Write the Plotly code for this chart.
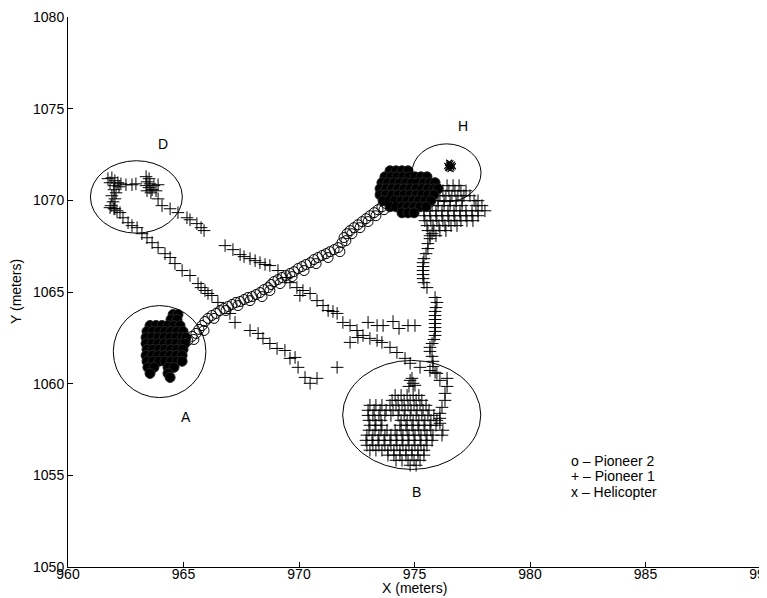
import plotly.graph_objects as go

FONT = "Liberation Sans, Arial, Helvetica, sans-serif"

# ---------------- Pioneer 2 (o) ----------------
# travelled path between region A and region H (x, y) in meters
pioneer2_path = [
    (965.19, 1062.36), (965.37, 1062.58), (965.54, 1062.74), (965.67, 1062.96), (965.80, 1063.17),
    (965.93, 1063.39), (966.06, 1063.56), (966.23, 1063.72), (966.41, 1063.83), (966.58, 1063.99),
    (966.75, 1064.10), (966.93, 1064.21), (967.10, 1064.32), (967.27, 1064.43), (967.45, 1064.48),
    (967.62, 1064.59), (967.79, 1064.70), (967.97, 1064.75), (968.14, 1064.86), (968.31, 1064.97),
    (968.48, 1065.13), (968.66, 1065.24), (968.79, 1065.41), (968.92, 1065.57), (969.09, 1065.68),
    (969.26, 1065.79), (969.44, 1065.90), (969.61, 1066.01), (969.78, 1066.11), (969.96, 1066.28),
    (970.13, 1066.39), (970.30, 1066.50), (970.48, 1066.60), (970.65, 1066.77), (970.82, 1066.88),
    (971.00, 1066.99), (971.17, 1067.09), (971.34, 1067.20), (971.52, 1067.31), (971.69, 1067.42),
    (971.86, 1067.69), (971.95, 1067.97), (972.08, 1068.18), (972.21, 1068.35), (972.38, 1068.51),
    (972.55, 1068.67), (972.73, 1068.84), (972.90, 1069.00), (973.07, 1069.16), (973.25, 1069.33),
    (973.42, 1069.49), (973.59, 1069.65), (973.77, 1069.82), (973.94, 1069.98),
    (965.45, 1062.41), (965.89, 1062.90), (966.32, 1063.56), (966.84, 1063.99), (967.36, 1064.26),
    (967.88, 1064.53), (968.40, 1064.75), (968.74, 1065.08), (969.18, 1065.46), (969.70, 1065.84),
    (970.22, 1066.17), (970.74, 1066.55), (971.26, 1066.88), (971.77, 1067.20), (972.03, 1067.80),
    (972.29, 1068.18), (972.64, 1068.51), (972.99, 1068.84), (973.33, 1069.16), (973.68, 1069.49),
    (974.03, 1069.76),
]

# dwell cluster in region A: rows of (y, [x, ...])
pioneer2_dwell_A = [
    (1063.77, [964.55, 964.76]),
    (1063.50, [964.46, 964.72]),
    (1063.17, [963.55, 963.81, 964.07, 964.33, 964.59, 964.85]),
    (1062.85, [963.42, 963.68, 963.94, 964.20, 964.46, 964.72, 964.98]),
    (1062.52, [963.38, 963.64, 963.90, 964.16, 964.42, 964.68, 964.94, 965.11]),
    (1062.19, [963.38, 963.64, 963.90, 964.16, 964.42, 964.68, 964.94, 965.06]),
    (1061.87, [963.42, 963.68, 963.94, 964.20, 964.46, 964.72, 964.98]),
    (1061.54, [963.38, 963.64, 963.90, 964.16, 964.42, 964.68, 964.94]),
    (1061.22, [963.42, 963.68, 963.94, 964.20, 964.46, 964.72, 964.94]),
    (1060.89, [963.46, 963.72, 964.33, 964.59]),
    (1060.56, [963.55, 964.33]),
    (1060.34, [964.42]),
]

# dwell cluster near region H
pioneer2_dwell_H = [
    (1071.61, [973.94, 974.20, 974.46, 974.72]),
    (1071.28, [973.72, 973.98, 974.24, 974.50, 974.76, 975.02, 975.28, 975.54]),
    (1070.96, [973.59, 973.85, 974.11, 974.37, 974.63, 974.89, 975.15, 975.41, 975.67, 975.89]),
    (1070.63, [973.51, 973.77, 974.03, 974.29, 974.55, 974.81, 975.07, 975.32, 975.58, 975.84, 976.02]),
    (1070.30, [973.51, 973.77, 974.03, 974.29, 974.55, 974.81, 975.07, 975.32, 975.58, 975.84]),
    (1069.98, [973.64, 973.90, 974.16, 974.42, 974.68, 974.94, 975.19, 975.45, 975.71]),
    (1069.65, [973.94, 974.20, 974.46, 974.72, 974.98, 975.24, 975.50]),
    (1069.32, [974.46, 974.72, 974.98]),
]

# ---------------- Pioneer 1 (+) ----------------
pioneer1_region_D = [
    (961.73, 1071.18), (961.90, 1071.23), (962.03, 1071.07), (962.16, 1070.96), (962.29, 1070.90),
    (961.82, 1070.96), (961.99, 1070.80), (962.21, 1070.74), (961.99, 1070.58), (962.08, 1070.41),
    (961.90, 1070.25), (962.03, 1070.08), (961.95, 1069.92), (961.86, 1069.71), (961.99, 1069.54),
    (962.12, 1069.43), (962.51, 1070.85), (962.77, 1070.85), (962.94, 1070.90), (963.38, 1071.29),
    (963.51, 1071.18), (963.42, 1071.01), (963.55, 1070.90), (963.38, 1070.80), (963.51, 1070.69),
    (963.64, 1070.58), (963.42, 1070.52), (963.72, 1070.80), (963.81, 1070.52), (963.59, 1070.41),
    (963.90, 1070.85),
]

pioneer1_upper_track = [
    (963.90, 1070.08), (964.07, 1069.71), (964.42, 1069.54), (964.76, 1069.33), (965.15, 1069.05),
    (965.28, 1068.94), (965.58, 1068.73), (965.76, 1068.51), (965.89, 1068.35), (966.80, 1067.53),
    (967.14, 1067.31), (967.45, 1067.04), (967.62, 1066.93), (967.88, 1066.82), (968.10, 1066.71),
    (968.31, 1066.60), (968.53, 1066.50), (968.74, 1066.44), (969.09, 1066.17), (969.44, 1065.79),
    (969.61, 1065.51), (969.91, 1065.24), (970.17, 1065.08), (970.04, 1064.81), (970.48, 1064.92),
    (970.78, 1064.53), (971.04, 1064.26), (971.26, 1063.99), (971.47, 1063.94), (971.65, 1063.83),
    (971.90, 1063.34), (972.21, 1063.17), (972.51, 1062.90), (972.77, 1062.63), (973.07, 1062.47),
    (973.38, 1062.36), (973.59, 1062.25), (973.94, 1061.98), (974.24, 1061.70), (974.59, 1061.38),
    (974.81, 1061.11), (975.24, 1060.89), (975.67, 1060.72), (975.89, 1060.62),
    (972.99, 1063.34), (973.38, 1063.17), (973.64, 1063.17), (974.07, 1063.39), (974.33, 1063.01),
    (974.72, 1063.17), (975.02, 1063.17), (972.21, 1062.25), (972.55, 1062.52), (971.65, 1060.89),
]

pioneer1_lower_track = [
    (961.82, 1069.60), (962.03, 1069.54), (962.25, 1069.33), (962.38, 1069.05), (962.60, 1068.78),
    (962.77, 1068.62), (962.99, 1068.51), (963.20, 1068.18), (963.42, 1067.96), (963.64, 1067.69),
    (963.90, 1067.42), (964.20, 1067.09), (964.42, 1066.88), (964.63, 1066.55), (964.94, 1066.17),
    (965.28, 1065.90), (965.63, 1065.46), (965.76, 1065.24), (965.93, 1065.08), (966.06, 1064.92),
    (966.23, 1064.81), (966.49, 1064.43), (967.01, 1063.83), (967.23, 1063.34), (967.88, 1062.90),
    (968.23, 1062.74), (968.44, 1062.47), (968.74, 1062.19), (969.05, 1061.92), (969.39, 1061.81),
    (969.61, 1061.38), (969.83, 1061.43), (969.96, 1060.89), (970.26, 1060.34), (970.48, 1060.02),
    (970.78, 1060.29),
]

pioneer1_return_track = [
    (975.76, 1068.18), (975.67, 1067.91), (975.58, 1067.64), (975.58, 1067.37), (975.50, 1067.09),
    (975.41, 1066.82), (975.37, 1066.60), (975.37, 1066.39), (975.37, 1066.17), (975.37, 1065.95),
    (975.37, 1065.73), (975.41, 1065.51), (975.54, 1065.24), (975.89, 1064.70), (975.97, 1064.43),
    (975.93, 1064.15), (975.89, 1063.94), (975.89, 1063.72), (975.89, 1063.50), (975.89, 1063.28),
    (975.89, 1063.06), (975.89, 1062.85), (975.89, 1062.63), (975.84, 1062.41), (975.76, 1062.19),
    (975.67, 1061.98), (975.67, 1061.76), (975.76, 1061.49), (975.80, 1061.22), (975.80, 1060.94),
    (975.97, 1060.56), (976.10, 1060.18), (976.41, 1060.29), (976.41, 1059.85), (976.32, 1059.47),
    (976.32, 1059.09), (976.19, 1058.71), (976.10, 1058.38), (976.10, 1058.11), (976.10, 1057.84),
    (976.23, 1057.46), (976.19, 1057.19),
    (974.81, 1060.18), (974.94, 1060.02), (974.76, 1059.85), (975.02, 1059.91), (974.89, 1060.29),
]

# dense dwell in region B: rows of (y, [x, ...])
pioneer1_dwell_B = [
    (1059.36, [974.16, 974.42, 974.68, 974.94, 975.19]),
    (1059.09, [974.03, 974.29, 974.55, 974.81, 975.07, 975.32]),
    (1058.82, [973.07, 973.33, 973.59, 973.94, 974.20, 974.46, 974.72, 974.98, 975.24, 975.50]),
    (1058.55, [972.99, 973.25, 973.51, 973.77, 974.07, 974.33, 974.59, 974.85, 975.11, 975.37, 975.63]),
    (1058.27, [972.99, 973.20, 973.46, 973.72, 973.98, 974.29, 974.55, 974.81, 975.07, 975.32, 975.58, 975.84]),
    (1058.00, [973.03, 973.29, 973.55, 974.42, 974.68, 974.94, 975.19, 975.45, 975.71, 975.97]),
    (1057.73, [973.07, 973.33, 973.59, 974.37, 974.63, 974.89, 975.15, 975.41, 975.67, 975.93]),
    (1057.46, [973.03, 973.29, 973.55, 973.81, 974.16, 974.42, 974.68, 974.94, 975.19, 975.45, 975.71]),
    (1057.19, [972.94, 973.20, 973.46, 973.72, 973.98, 974.24, 974.50, 974.76, 975.02, 975.28, 975.54, 975.80]),
    (1056.91, [972.90, 973.16, 973.42, 973.68, 973.94, 974.20, 974.46, 974.72, 974.98, 975.24, 975.50, 975.76]),
    (1056.64, [972.94, 973.20, 973.46, 973.72, 973.98, 974.24, 974.50, 974.76, 975.02, 975.28, 975.54]),
    (1056.37, [973.07, 973.33, 973.59, 973.85, 974.11, 974.37, 974.63, 974.89, 975.15, 975.41]),
    (1056.10, [973.85, 974.11, 974.37, 974.63, 974.89, 975.15, 975.41]),
    (1055.82, [974.20, 974.46, 974.72, 974.98, 975.24]),
    (1055.55, [974.81, 975.07]),
]

# dense dwell near region H
pioneer1_dwell_H = [
    (1070.80, [976.41, 976.67, 976.93]),
    (1070.52, [976.23, 976.49, 976.75, 977.01, 977.23]),
    (1070.25, [976.10, 976.36, 976.62, 976.88, 977.14, 977.40]),
    (1069.98, [975.76, 976.02, 976.28, 976.54, 976.80, 977.06, 977.58, 977.75]),
    (1069.71, [975.50, 975.76, 976.02, 976.28, 976.54, 976.80, 977.06, 977.66, 977.92]),
    (1069.43, [975.41, 975.67, 975.93, 976.19, 976.45, 976.71, 976.97, 977.23, 977.49, 977.75, 978.05]),
    (1069.16, [975.41, 975.67, 975.93, 976.19, 976.45, 976.71, 976.97, 977.23, 977.49, 977.75]),
    (1068.89, [975.45, 975.71, 975.97, 976.23, 976.49, 976.75, 977.01, 977.27, 977.53]),
    (1068.62, [975.54, 975.80, 976.06, 976.32, 976.58, 976.84]),
    (1068.35, [975.58, 975.84, 976.10, 976.36]),
    (1068.07, [975.67, 975.93]),
]

# ---------------- Helicopter (x) ----------------
helicopter = [
    (976.50, 1071.90), (976.58, 1071.85), (976.45, 1071.80), (976.62, 1071.95), (976.55, 1072.02),
    (976.48, 1071.75), (976.60, 1071.78), (976.52, 1071.96), (976.42, 1071.88), (976.66, 1071.86),
    (976.56, 1071.70), (976.50, 1072.05),
]

# ---------------- Regions (ellipse extents x0, x1, y0, y1) and labels ----------------
region_names = ["A", "B", "D", "H"]
region_x0 = [961.96, 971.89, 960.97, 974.89]
region_x1 = [965.97, 977.87, 964.95, 977.88]
region_y0 = [1059.24, 1055.32, 1068.21, 1069.92]
region_y1 = [1064.26, 1061.27, 1072.16, 1073.08]
label_x = [965.1, 975.1, 964.1, 977.1]
label_y = [1058.2, 1054.1, 1073.1, 1074.05]

key_text = ["o \u2013 Pioneer 2", "+ \u2013 Pioneer 1", "x \u2013 Helicopter"]
key_x = 981.7
key_y = [1055.77, 1054.95, 1054.08]

x_ticks = [960, 965, 970, 975, 980, 985, 990]
y_ticks = [1050, 1055, 1060, 1065, 1070, 1075, 1080]
x_title = "X (meters)"
y_title = "Y (meters)"


def unzip(pairs):
    return [p[0] for p in pairs], [p[1] for p in pairs]


def rows_to_xy(rows):
    xs, ys = [], []
    for yv, xlist in rows:
        for xv in xlist:
            xs.append(xv)
            ys.append(yv)
    return xs, ys


plus_marker = dict(symbol="cross-thin-open", size=9, color="black", line=dict(width=1, color="black"))
circle_marker = dict(symbol="circle-open", size=10, color="black", line=dict(width=1, color="black"))
fill_marker = dict(symbol="circle", size=10, color="black", line=dict(width=1, color="#222"))
x_marker = dict(symbol="x-thin-open", size=6, color="black", line=dict(width=1.2, color="black"))

fig = go.Figure()

for pairs in [pioneer1_region_D, pioneer1_upper_track, pioneer1_lower_track, pioneer1_return_track]:
    xs, ys = unzip(pairs)
    fig.add_trace(go.Scatter(x=xs, y=ys, mode="markers", marker=plus_marker, hoverinfo="skip"))
for rows in [pioneer1_dwell_B, pioneer1_dwell_H]:
    xs, ys = rows_to_xy(rows)
    fig.add_trace(go.Scatter(x=xs, y=ys, mode="markers", marker=plus_marker, hoverinfo="skip"))

for rows in [pioneer2_dwell_A, pioneer2_dwell_H]:
    xs, ys = rows_to_xy(rows)
    fig.add_trace(go.Scatter(x=xs, y=ys, mode="markers", marker=fill_marker, hoverinfo="skip"))
xs, ys = unzip(pioneer2_path)
fig.add_trace(go.Scatter(x=xs, y=ys, mode="markers", marker=circle_marker, hoverinfo="skip"))

xs, ys = unzip(helicopter)
fig.add_trace(go.Scatter(x=xs, y=ys, mode="markers", marker=x_marker, hoverinfo="skip"))

for i in range(len(region_names)):
    fig.add_shape(type="circle", xref="x", yref="y",
                  x0=region_x0[i], x1=region_x1[i], y0=region_y0[i], y1=region_y1[i],
                  line=dict(color="black", width=1))
    fig.add_annotation(x=label_x[i], y=label_y[i], text=region_names[i], showarrow=False,
                       font=dict(family=FONT, size=14, color="black"))

for t, yv in zip(key_text, key_y):
    fig.add_annotation(x=key_x, y=yv, text=t, showarrow=False, xanchor="left",
                       font=dict(family=FONT, size=14, color="black"))

# axis titles placed as annotations in paper coordinates
fig.add_annotation(xref="paper", yref="paper", x=0.5, y=0, yshift=-21, yanchor="middle",
                   text=x_title, showarrow=False, font=dict(family=FONT, size=14, color="black"))
fig.add_annotation(xref="paper", yref="paper", x=0, y=0.5, xshift=-52, xanchor="center",
                   textangle=-90, text=y_title, showarrow=False,
                   font=dict(family=FONT, size=14, color="black"))

axis_common = dict(showgrid=False, zeroline=False, showline=True, linecolor="black", linewidth=1,
                   ticks="inside", ticklen=5, tickcolor="black", mirror=False, automargin=False,
                   ticklabeloverflow="allow",
                   tickfont=dict(family=FONT, size=14, color="black"))

# The page body adds an 8 px offset, so the figure is 8 px smaller and margins compensate.
fig.update_layout(
    width=759, height=590,
    margin=dict(l=60, r=6, t=9, b=31, autoexpand=False),
    paper_bgcolor="white", plot_bgcolor="white",
    showlegend=False,
    xaxis=dict(range=[960, 990], tickvals=x_ticks, ticktext=[str(v) for v in x_ticks],
               ticklabelstandoff=-6, **axis_common),
    yaxis=dict(range=[1050, 1080], tickvals=y_ticks, ticktext=[str(v) for v in y_ticks], **axis_common),
)

fig.write_html("out.html")
